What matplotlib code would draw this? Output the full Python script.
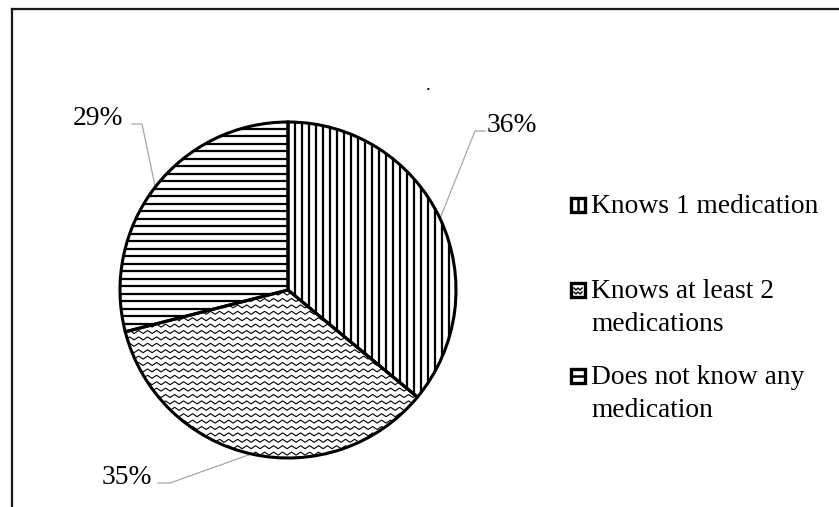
import numpy as np
import matplotlib.pyplot as plt
from matplotlib.collections import LineCollection
from matplotlib.patches import Rectangle
from matplotlib.lines import Line2D

# data
categories = ['Knows 1 medication',
              'Knows at least 2\nmedications',
              'Does not know any\nmedication']
shares = [36, 35, 29]
pct_labels = ['36%', '35%', '29%']

W, H = 839, 507
CX, CY, R = 288, 290, 168          # pie centre / radius in pixels
FONT = 'Liberation Serif'
FS = 19.8

plt.rcParams['font.family'] = [FONT, 'DejaVu Serif']


def to_data(px, py):
    """pixel position -> pie data coordinates (1 unit = radius)"""
    return (px - CX) / R, (CY - py) / R


def to_fig(px, py):
    return px / W, 1 - py / H


def hatch_segments(kind):
    s = 1 / R
    segs = []
    if kind == 'vertical':
        for x in np.arange(0, 1.05, 7 * s):
            segs.append([(x, -1.05), (x, 1.05)])
    elif kind == 'horizontal':
        for y in np.arange(-1.05, 1.05, 7.5 * s):
            segs.append([(-1.05, y), (1.05, y)])
    else:  # zigzag
        xs = np.arange(-1.05, 1.05, 4.5 * s)
        amp = np.where(np.arange(len(xs)) % 2 == 0, 1.5 * s, -1.5 * s)
        for y in np.arange(-1.05, 1.05, 6.4 * s):
            segs.append(np.column_stack([xs, y + amp]))
    return segs


fig = plt.figure(figsize=(W / 100, H / 100), dpi=100)
ax = fig.add_axes([0, 0, 1, 1])

wedges, _ = ax.pie(shares, startangle=90, counterclock=False, radius=1,
                   wedgeprops=dict(facecolor='none', edgecolor='black',
                                   linewidth=2.2, zorder=3))

kinds = ['vertical', 'zigzag', 'horizontal']
widths = [1.6, 0.8, 1.6]
for w, kind, lw in zip(wedges, kinds, widths):
    lc = LineCollection(hatch_segments(kind), colors='black', linewidths=lw,
                        zorder=2)
    ax.add_collection(lc)
    lc.set_clip_path(w)

# percentage labels with leader lines
label_pos = [(487, 132, 'left'), (152, 484, 'right'), (123, 125, 'right')]
elbows = [[(475, 131), (485, 131)],
          [(170, 483), (158, 483)],
          [(142, 124), (132, 124)]]
for w, txt, (lx, ly, ha), elb in zip(wedges, pct_labels, label_pos, elbows):
    mid = np.deg2rad((w.theta1 + w.theta2) / 2)
    pts = [(np.cos(mid), np.sin(mid))] + [to_data(*p) for p in elb]
    xs, ys = zip(*pts)
    ax.plot(xs, ys, color='#A6A6A6', lw=0.9, zorder=1)
    ax.text(*to_data(lx, ly), txt, ha=ha, va='baseline', fontsize=FS)

ax.set_xlim(to_data(0, 0)[0], to_data(W, 0)[0])
ax.set_ylim(to_data(0, H)[1], to_data(0, 0)[1])
ax.set_aspect('auto')
ax.axis('off')

# title is just a dot
fig.text(*to_fig(428, 90), '.', fontsize=14, ha='center', va='baseline')

# legend
baselines = [213, 298, 384]
for i, (label, base) in enumerate(zip(categories, baselines)):
    x0, y0 = to_fig(571, base - 1)
    fig.add_artist(Rectangle((x0, y0), 14 / W, 14 / H,
                             transform=fig.transFigure, facecolor='white',
                             edgecolor='black', lw=2.4))
    bx, by = 578, base - 8           # box centre in pixels
    if i == 0:
        mark = [[(bx, by - 6), (bx, by + 6)]]
    elif i == 2:
        mark = [[(bx - 6, by), (bx + 6, by)]]
    else:
        mark = [[(bx - 4, by - 2), (bx - 2, by), (bx, by - 2),
                 (bx + 2, by), (bx + 4, by - 2)],
                [(bx - 4, by + 2), (bx - 2, by + 4), (bx, by + 2),
                 (bx + 2, by + 4), (bx + 4, by + 2)]]
    for m in mark:
        mx, my = zip(*[to_fig(*p) for p in m])
        fig.add_artist(Line2D(mx, my, transform=fig.transFigure,
                              color='black', lw=1.8 if i != 1 else 1.0))
    for j, line in enumerate(label.split('\n')):
        fig.text(*to_fig(591, base + 33 * j), line, fontsize=FS,
                 va='baseline')

# chart frame (right and bottom edges fall outside the image)
fig.add_artist(Line2D([12 / W, 1.01], [1 - 9 / H] * 2,
                      transform=fig.transFigure, color='#1a1a1a', lw=1.6))
fig.add_artist(Line2D([12 / W] * 2, [1 - 9 / H, -0.01],
                      transform=fig.transFigure, color='#1a1a1a', lw=1.6))

fig.savefig('out.png', dpi=100, facecolor='white')
